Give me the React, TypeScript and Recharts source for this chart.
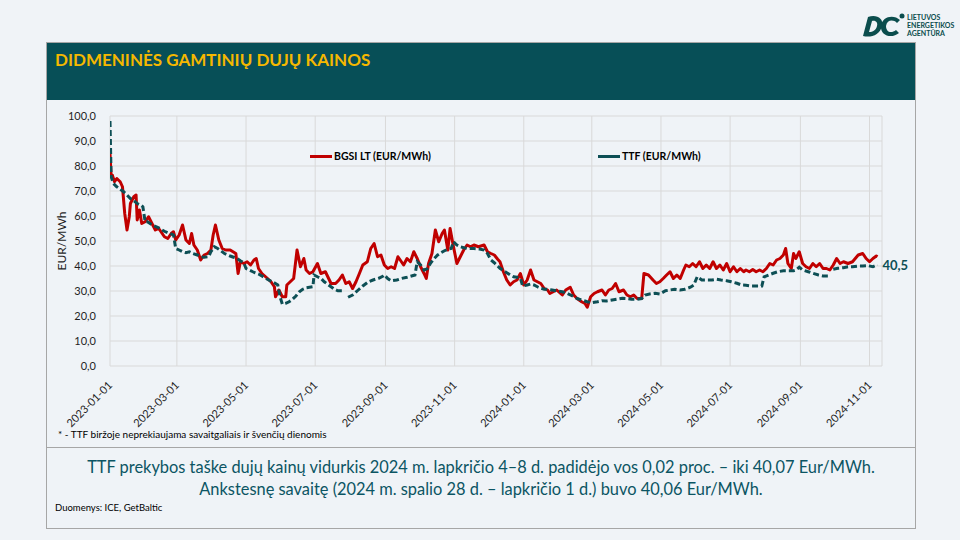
import React from 'react';
import { LineChart, Line, XAxis, YAxis, CartesianGrid } from 'recharts';

// Day offsets from 2023-01-01
const bgsiDays = [0,1,2,4,6,9,11,13,15,17,18,21,23,24,26,28,31,34,37,40,43,48,51,54,56,58,61,64,67,70,72,74,77,80,83,86,89,91,93,96,99,102,106,111,113,115,118,121,124,127,129,131,134,139,142,145,146,149,152,155,156,159,162,165,168,171,173,176,179,183,186,190,195,199,202,205,208,211,214,217,220,223,227,230,233,236,239,242,245,248,251,254,256,259,262,265,268,271,274,277,279,281,284,287,290,293,295,298,300,303,306,309,312,315,318,321,325,330,333,336,339,342,344,347,350,353,356,359,362,365,368,371,374,377,380,383,386,388,391,394,399,402,406,409,412,416,419,421,424,427,430,434,437,440,443,446,449,453,456,459,462,465,469,471,475,479,482,485,488,491,494,497,500,503,506,508,511,514,517,520,523,526,529,532,535,538,541,544,547,550,553,556,559,561,564,567,570,573,576,579,582,585,588,591,594,596,598,601,603,605,608,611,614,617,620,623,626,629,632,635,638,641,644,647,651,655,660,664,667,670,673,676,677];
const bgsiValues = [85,76,76.4,73.7,75,73.7,71.7,61,54.4,59.7,65,67.7,68.4,58.4,62.4,57,57.7,59.7,57,54.4,55,51.7,51,53,53.7,50.4,52.4,56.4,50.4,49,53,48.4,46.4,42.4,44.4,45,46.4,52.4,56.4,50.4,47,46.4,46.4,45,37,41.7,41,41.7,40.4,42.4,43,39,37,35,33.7,31.7,27.7,30.4,27.7,27.7,32.4,33.7,35,46.4,39.7,43,38.4,37,37.7,41,37,37.7,33,33,34.4,36.4,33,33.7,31,33.7,37,40.4,41.7,47,49,43.7,44.4,40.4,39,39.7,39,43.7,42.4,40.4,43,41.7,45.7,43,39.7,37,35,41,45,54.4,49.7,53,54.4,46.4,55,47.7,41,43.7,46.4,48.4,47.7,48.4,47.7,48.4,45.7,45,44.4,42.7,41.7,37.7,34.4,32.4,33.7,34.4,37,32.4,34.4,38.4,34.4,33.7,33,31,30.4,29,29.7,30.4,28.4,30.4,31.5,28.4,27,25.7,25,23.5,27.7,29,29.7,30.4,28.4,30.4,31,33,29.7,30.4,28.4,27.7,28.4,27,27,37,36.4,34.4,33,33.7,35,36.4,37.7,35,36.4,35,38.4,40.4,39.7,41,39.7,41.7,39,40.4,39,41.7,39,40.4,38.4,41,37.7,39.7,37.7,39,37.7,38.4,37.7,38.6,37.7,38.4,37.7,39,41,40.4,42.4,43,44.4,47,41,39,45,43,45.7,41,39.7,39,41,39.7,41,39,39,38.4,40.4,43,41,41.7,41,41.7,44.4,45,43,41.7,43,44,43.7];

const ttfDays = [0,1,3,6,9,12,15,18,21,24,27,29,31,33,36,39,42,45,48,51,54,56,58,61,64,67,70,73,77,80,83,87,89,92,95,98,101,104,106,109,112,115,118,120,123,126,128,131,134,137,140,143,146,148,150,152,155,158,161,164,167,170,173,176,179,180,183,186,189,192,195,198,201,204,206,208,210,214,219,223,228,232,237,241,242,245,248,253,257,262,266,269,271,274,277,280,283,286,289,292,295,298,301,303,306,309,312,317,321,326,330,333,336,339,342,344,347,350,353,356,359,362,364,368,371,374,377,380,383,386,390,394,399,403,408,412,416,421,425,430,434,438,443,447,452,456,460,465,469,472,476,481,485,490,494,498,503,507,512,515,518,522,526,531,535,539,544,548,553,557,561,566,570,575,577,581,585,589,594,598,603,605,608,611,616,620,625,629,635,636,638,642,647,651,655,660,664,669,673,677];
const ttfValues = [98,75.7,73,71.7,70.7,69.7,68.4,67,66.1,65,64.4,63.7,57.7,57.7,56.8,56,55.5,54.7,53.9,53.3,52.8,52.4,47,46.4,45.7,45.3,45.7,45,44.4,43.7,43.5,43.7,45.7,47.7,47,46,45,44.4,44,43.5,43,42.1,41.3,39,38.4,37.7,37.3,36.8,36,35.2,34.4,33.7,33,32.4,27.7,24.8,25.1,25.7,26.7,28,29.7,30.7,31.3,31.5,31.7,36.4,35.7,35.1,33.7,32.7,31.7,30.7,30.1,30.1,30.1,null,27.5,28.4,30.4,32,33.7,34.4,35.1,36,36.4,35,34.1,34.4,35,35.5,36,36.4,41.7,40.4,38.4,39,41.3,43,44.4,45.3,46.1,46.7,47,49.7,48.4,47.7,47.3,47,47,46.8,46.4,45,42.4,41.3,40,39.1,38.1,37.3,36.4,35.7,35.5,35.1,32,32.4,32.8,32.4,31.7,31.1,30.7,30.7,30.4,30.1,29.7,29.1,28,27,26.4,25.7,25.3,25.7,26.1,26,26.4,26.7,27.1,27,26.7,26.7,27,28.4,28.8,29.1,28.8,30.1,30.4,30.7,30.4,30.7,31.5,32.4,35.7,34.4,34.4,34.4,34.7,34.4,34.1,33.7,33.1,32.4,32.3,32,32,32,35.7,36.4,37.1,37.7,38.1,38.1,38.1,38.4,39.5,38.4,37.7,37.1,36.4,36,36,null,38.7,39.1,39.3,39.7,39.7,40,40,40.1,39.7,40.5];

const xTickLabels = ['2023-01-01','2023-03-01','2023-05-01','2023-07-01','2023-09-01','2023-11-01','2024-01-01','2024-03-01','2024-05-01','2024-07-01','2024-09-01','2024-11-01'];
const yTicks = [0,10,20,30,40,50,60,70,80,90,100];

const BASE = Date.UTC(2023, 0, 1);
const toDay = (s: string) => {
  const [y, m, d] = s.split('-').map(Number);
  return Math.round((Date.UTC(y, m - 1, d) - BASE) / 864e5);
};
const xTicks = xTickLabels.map(toDay);
const tickLabelByDay: Record<number, string> = {};
xTickLabels.forEach((s) => { tickLabelByDay[toDay(s)] = s; });

const bgsiData = bgsiDays.map((d, i) => ({ d, v: bgsiValues[i] }));
const ttfData = ttfDays.map((d, i) => ({ d, v: ttfValues[i] }));

const RED = '#c00000';
const TEAL = '#0d4f55';
const FONT = 'Lato, "Open Sans", sans-serif';

const XTick = (props: any) => {
  const { x, y, payload } = props;
  return (
    <g transform={`translate(${x + 3},${y + 12}) rotate(-45)`}>
      <text x={0} y={0} textAnchor="end" fontSize={11} fill="#1f1f1f" fontFamily={FONT}>
        {tickLabelByDay[payload.value]}
      </text>
    </g>
  );
};

const lastTtf = ttfValues[ttfValues.length - 1] as number;

const EndLabel = (props: any) => {
  const { x, y, index } = props;
  if (index !== ttfData.length - 1) return null;
  return (
    <text x={x + 5} y={y + 5} fill={TEAL} fontSize={13} fontWeight={700} fontFamily={FONT}>
      {lastTtf.toFixed(1).replace('.', ',')}
    </text>
  );
};

const Logo = () => (
  <svg width={100} height={36} style={{ position: 'absolute', left: 860, top: 8 }}>
    <path d="M3,28 L8,9 C16,6 24,10 22,18 C20,27 11,30 3,28 Z" fill="#0b4d4d" />
    <path d="M9,24 L12,13 C16,12 18,15 17,18 C16,22 13,24 9,24 Z" fill="#f0f3f7" />
    <path d="M40,12 C34,6 22,8 21,18 C20,28 32,31 39,25 L36,22 C31,26 26,24 26,18 C27,12 33,11 37,15 Z" fill="#0b4d4d" />
    <circle cx={42} cy={8} r={2.5} fill="#0b4d4d" />
    <text x={47} y={12} fontSize={7} fontWeight={700} fill="#0b4d4d" fontFamily={FONT}>LIETUVOS</text>
    <text x={47} y={20} fontSize={7} fontWeight={700} fill="#0b4d4d" fontFamily={FONT}>ENERGETIKOS</text>
    <text x={47} y={28} fontSize={7} fontWeight={700} fill="#0b4d4d" fontFamily={FONT}>AGENTŪRA</text>
  </svg>
);

const legendItem = (left: number, color: string, text: string) => (
  <div style={{ position: 'absolute', left, top: 150, display: 'flex', alignItems: 'center', fontFamily: FONT, fontSize: 10.5, fontWeight: 700, color: '#000', whiteSpace: 'nowrap' }}>
    <span style={{ display: 'inline-block', width: 22, height: 3, background: color, marginRight: 2 }} />
    <span>{text}</span>
  </div>
);

export default function App() {
  return (
    <div style={{ position: 'absolute', left: 0, top: 0, width: 960, height: 540, background: '#f0f3f7', fontFamily: FONT, overflow: 'hidden' }}>
      <Logo />
      <div style={{ position: 'absolute', left: 46, top: 42, width: 868, height: 485, border: '1px solid #a6a6a6', background: '#eff3f7' }} />
      <div style={{ position: 'absolute', left: 47, top: 43, width: 868, height: 57, background: '#074f57' }}>
        <div style={{ position: 'absolute', left: 8, top: 6, color: '#f5b800', fontSize: 17, fontWeight: 700, fontFamily: FONT }}>
          DIDMENINĖS GAMTINIŲ DUJŲ KAINOS
        </div>
      </div>
      <div style={{ position: 'absolute', left: 47, top: 100 }}>
        <LineChart width={868} height={347} margin={{ top: 16, right: 33, left: 13, bottom: 11 }}>
          <CartesianGrid stroke="#d9d9d9" strokeWidth={1} />
          <XAxis
            type="number"
            dataKey="d"
            domain={[0, 681]}
            ticks={xTicks}
            tick={<XTick />}
            axisLine={false}
            tickLine={false}
            height={70}
            interval={0}
            allowDataOverflow
          />
          <YAxis
            type="number"
            domain={[0, 100]}
            ticks={yTicks}
            width={50}
            axisLine={false}
            tickLine={false}
            tick={{ fontSize: 11, fill: '#1f1f1f', fontFamily: FONT }}
            tickFormatter={(v: number) => v.toFixed(1).replace('.', ',')}
            tickMargin={8}
            label={{ value: 'EUR/MWh', angle: -90, position: 'insideLeft', offset: 2, style: { textAnchor: 'middle', fontSize: 12, fill: '#1f1f1f', fontFamily: FONT } }}
          />
          <Line data={bgsiData} dataKey="v" name="BGSI LT (EUR/MWh)" stroke={RED} strokeWidth={3} strokeLinejoin="round" dot={false} isAnimationActive={false} />
          <Line data={ttfData} dataKey="v" name="TTF (EUR/MWh)" stroke={TEAL} strokeWidth={3} strokeDasharray="6 3" dot={false} isAnimationActive={false} label={<EndLabel />} />
        </LineChart>
      </div>
      {legendItem(310, RED, 'BGSI LT (EUR/MWh)')}
      {legendItem(598, TEAL, 'TTF (EUR/MWh)')}
      <div style={{ position: 'absolute', left: 46, top: 447, width: 870, height: 1, background: '#a6a6a6' }} />
      <div style={{ position: 'absolute', left: 58, top: 428, fontSize: 10, color: '#000', fontFamily: FONT }}>
        * - TTF biržoje neprekiaujama savaitgaliais ir švenčių dienomis
      </div>
      <div style={{ position: 'absolute', left: 47, top: 456, width: 868, textAlign: 'center', fontSize: 16.4, lineHeight: '22px', color: '#0b5563', fontFamily: FONT }}>
        TTF prekybos taške dujų kainų vidurkis 2024 m. lapkričio 4–8 d. padidėjo vos 0,02 proc. – iki 40,07 Eur/MWh.
        <br />
        Ankstesnę savaitę (2024 m. spalio 28 d. – lapkričio 1 d.) buvo 40,06 Eur/MWh.
      </div>
      <div style={{ position: 'absolute', left: 55, top: 502, fontSize: 9.5, color: '#000', fontFamily: FONT }}>
        Duomenys: ICE, GetBaltic
      </div>
    </div>
  );
}
